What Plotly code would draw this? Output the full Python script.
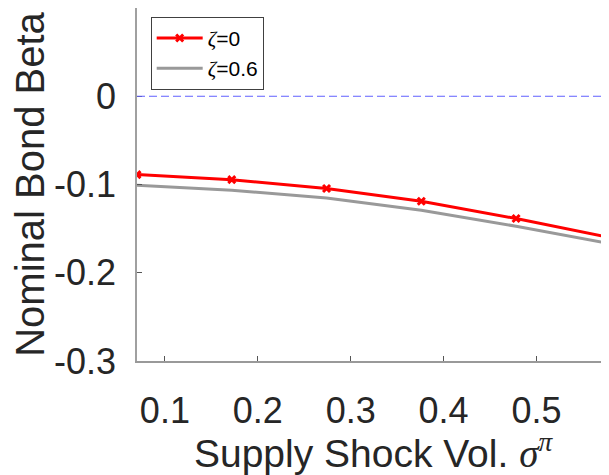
import plotly.graph_objects as go

# Data
sigma_pi = [0.07, 0.172, 0.274, 0.376, 0.478, 0.58]
beta_zeta0 = [-0.0888, -0.0945, -0.1046, -0.1190, -0.1386, -0.1604]
beta_zeta06 = [-0.1009, -0.1066, -0.1152, -0.1292, -0.1473, -0.1672]
series_names = ['<span style="font-family:Liberation Serif"><i>ζ</i></span>=0',
                '<span style="font-family:Liberation Serif"><i>ζ</i></span>=0.6']

x_tickvals = [0.1, 0.2, 0.3, 0.4, 0.5]
x_ticktext = ["0.1", "0.2", "0.3", "0.4", "0.5"]
y_tickvals = [-0.3, -0.2, -0.1, 0]
y_ticktext = ["-0.3", "-0.2", "-0.1", "0"]
zero_level = 0

FONT = "Liberation Sans, Arial, Helvetica, sans-serif"
TXT = "#262626"

fig = go.Figure()
fig.add_trace(go.Scatter(
    x=sigma_pi, y=beta_zeta0, name=series_names[0], mode="lines+markers",
    line=dict(color="#ff0000", width=3),
    marker=dict(symbol="x-thin", size=7, color="#ff0000",
                line=dict(color="#ff0000", width=3)),
))
fig.add_trace(go.Scatter(
    x=sigma_pi, y=beta_zeta06, name=series_names[1], mode="lines",
    line=dict(color="#999999", width=3),
))
fig.add_hline(y=zero_level, line=dict(color="#6060ff", width=1, dash="8px,4px"))

# the page body adds an 8px offset, so the figure is sized to fit the window
fig.update_layout(
    width=601, height=467,
    margin=dict(l=129, r=0, t=0, b=114),
    paper_bgcolor="white", plot_bgcolor="white",
    font=dict(family=FONT, color=TXT),
    showlegend=True,
    legend=dict(
        x=0.029, y=0.975, xanchor="left", yanchor="top",
        bgcolor="white", bordercolor="#404040", borderwidth=1,
        font=dict(size=21, family=FONT, color="#000000"),
        tracegroupgap=0, itemwidth=46,
    ),
    xaxis=dict(
        automargin=False,
        range=[0.07, 0.578], tickvals=x_tickvals, ticktext=x_ticktext,
        showgrid=False, zeroline=False, showline=True,
        linecolor="#999999", linewidth=1.5,
        ticks="inside", ticklen=5, tickcolor="#555555", tickwidth=1,
        tickfont=dict(size=36, family=FONT, color=TXT),
        ticklabelstandoff=17,
        title=dict(
            text='Supply Shock Vol. <span style="font-family:Liberation Serif"><i>σ</i><sup><i>π</i></sup></span>',
            font=dict(size=39, family=FONT, color=TXT), standoff=0),
    ),
    yaxis=dict(
        automargin=False,
        range=[-0.3, 0.1], tickvals=y_tickvals, ticktext=y_ticktext,
        showgrid=False, zeroline=False, showline=True,
        linecolor="#a0a0a0", linewidth=1.5,
        ticks="inside", ticklen=5, tickcolor="#555555", tickwidth=1,
        tickfont=dict(size=36, family=FONT, color=TXT),
        ticklabelstandoff=12,
        title=dict(text="Nominal Bond Beta",
                   font=dict(size=40, family=FONT, color=TXT), standoff=18),
    ),
)

fig.write_html("out.html")
